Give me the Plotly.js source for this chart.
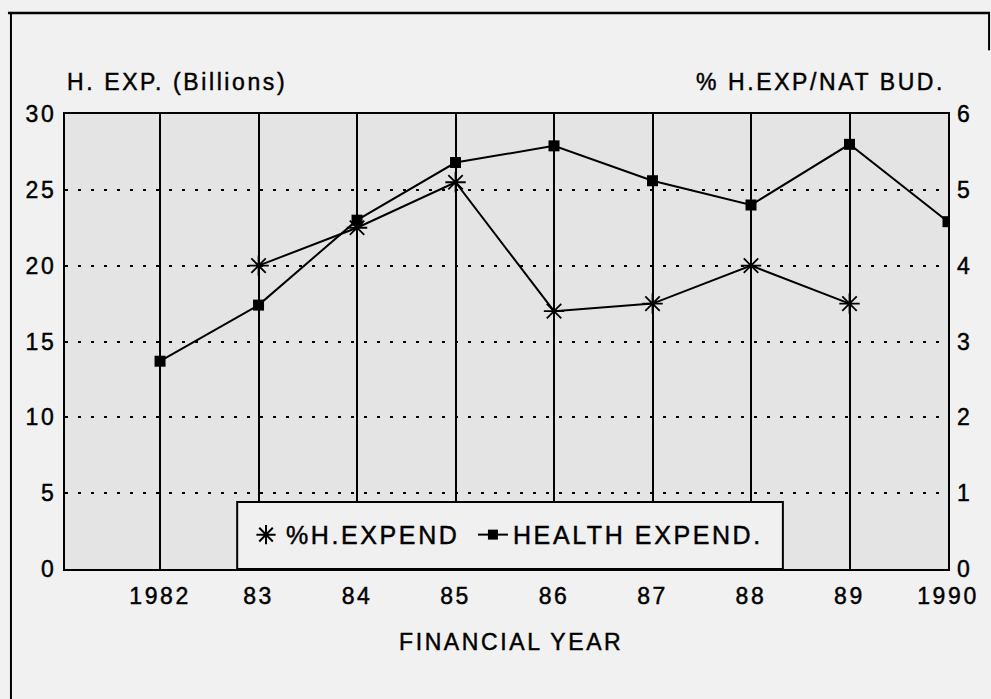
<!DOCTYPE html>
<html>
<head>
<meta charset="utf-8">
<script src="https://cdn.plot.ly/plotly-3.0.1.min.js"></script>
<style>
  html, body { margin: 0; padding: 0; background: #f1f1f1; }
  #chart { width: 991px; height: 699px; }
  svg text { letter-spacing: 2.6px; stroke: #000; stroke-width: 0.45px; }
</style>
</head>
<body>
<div id="chart"></div>
<script>
// ---- data ----
var years = [1982, 1983, 1984, 1985, 1986, 1987, 1988, 1989, 1990];
var yearLabels = ['1982', '83', '84', '85', '86', '87', '88', '89', '1990'];
// Health expenditure, billions (left axis)
var healthExpend = [13.7, 17.4, 23.0, 26.8, 27.9, 25.6, 24.0, 28.0, 22.9];
// % health expenditure of national budget (right axis)
var pctYears = [1983, 1984, 1985, 1986, 1987, 1988, 1989];
var pctExpend = [4.0, 4.5, 5.1, 3.4, 3.5, 4.0, 3.5];
var leftTicks = [0, 5, 10, 15, 20, 25, 30];
var rightTicks = [0, 1, 2, 3, 4, 5, 6];

var FONT = 'Liberation Sans, Arial, Helvetica, sans-serif';

var traces = [
  {
    x: pctYears, y: pctExpend, yaxis: 'y2', type: 'scatter', mode: 'lines+markers',
    name: '%H.EXPEND', showlegend: false,
    line: {color: '#000', width: 2},
    marker: {symbol: 'asterisk-open', size: 17, color: '#000', line: {color: '#000', width: 1.8}}
  },
  {
    x: years, y: healthExpend, type: 'scatter', mode: 'lines+markers',
    name: 'HEALTH EXPEND.', showlegend: false,
    line: {color: '#000', width: 2},
    marker: {symbol: 'square', size: 11, color: '#000'}
  },
  // legend-only entries
  {
    x: [null], y: [null], type: 'scatter', mode: 'markers', name: '%H.EXPEND',
    legend: 'legend',
    marker: {symbol: 'asterisk-open', size: 16, color: '#000', line: {color: '#000', width: 2}}
  },
  {
    x: [null], y: [null], type: 'scatter', mode: 'lines+markers', name: 'HEALTH EXPEND.',
    legend: 'legend2',
    line: {color: '#000', width: 2},
    marker: {symbol: 'square', size: 10, color: '#000'}
  }
];

var legendCommon = {
  orientation: 'h', yanchor: 'middle', xanchor: 'left', y: 0.075,
  bgcolor: 'rgba(0,0,0,0)', borderwidth: 0,
  font: {family: FONT, size: 25, color: '#000'}
};

var layout = {
  width: 991, height: 699,
  margin: {l: 65, r: 43, t: 114, b: 130},
  paper_bgcolor: '#f1f1f1',
  plot_bgcolor: '#e4e4e4',
  font: {family: FONT, size: 23, color: '#000'},
  showlegend: true,
  legend: Object.assign({}, legendCommon, {x: 0.205}),
  legend2: Object.assign({}, legendCommon, {x: 0.462}),
  xaxis: {
    range: [1981.035, 1990],
    tickvals: years, ticktext: yearLabels,
    ticks: '', ticklabelstandoff: 5,
    showgrid: true, gridcolor: '#000', gridwidth: 2,
    showline: true, linecolor: '#000', linewidth: 2, mirror: true,
    zeroline: false, fixedrange: true
  },
  yaxis: {
    range: [0, 30], tickvals: leftTicks,
    ticks: '', ticklabelstandoff: 2,
    showgrid: true, gridcolor: '#000', gridwidth: 2, griddash: '3px,10px',
    showline: true, linecolor: '#000', linewidth: 2, mirror: true,
    zeroline: false
  },
  yaxis2: {
    range: [0, 6], tickvals: rightTicks, overlaying: 'y', side: 'right',
    ticks: '', ticklabelstandoff: 8,
    showgrid: false, showline: false, zeroline: false
  },
  annotations: [
    {text: 'H. EXP. (Billions)', xref: 'paper', yref: 'paper', x: 0, y: 1.07,
     xanchor: 'left', yanchor: 'middle', showarrow: false, font: {family: FONT, size: 23}},
    {text: '% H.EXP/NAT BUD.', xref: 'paper', yref: 'paper', x: 0.999, y: 1.07,
     xanchor: 'right', yanchor: 'middle', showarrow: false, font: {family: FONT, size: 23}},
    {text: 'FINANCIAL YEAR', xref: 'paper', yref: 'paper', x: 0.505, y: -0.16,
     xanchor: 'center', yanchor: 'middle', showarrow: false, font: {family: FONT, size: 23}}
  ],
  shapes: [
    // legend box
    {type: 'rect', xref: 'paper', yref: 'paper', x0: 0.195, x1: 0.813, y0: 0, y1: 0.147,
     fillcolor: '#f0f0f0', line: {color: '#000', width: 2}, layer: 'above'},
    // outer frame (top, left, right stub)
    {type: 'line', xref: 'paper', yref: 'paper', x0: -0.0646, x1: 1.0476, y0: 1.222, y1: 1.222,
     line: {color: '#000', width: 2.5}},
    {type: 'line', xref: 'paper', yref: 'paper', x0: -0.0612, x1: -0.0612, y0: 1.222, y1: -0.29,
     line: {color: '#000', width: 2}},
    {type: 'line', xref: 'paper', yref: 'paper', x0: 1.0465, x1: 1.0465, y0: 1.222, y1: 1.14,
     line: {color: '#000', width: 2}}
  ]
};

Plotly.newPlot('chart', traces, layout, {displayModeBar: false, staticPlot: true});
</script>
</body>
</html>
